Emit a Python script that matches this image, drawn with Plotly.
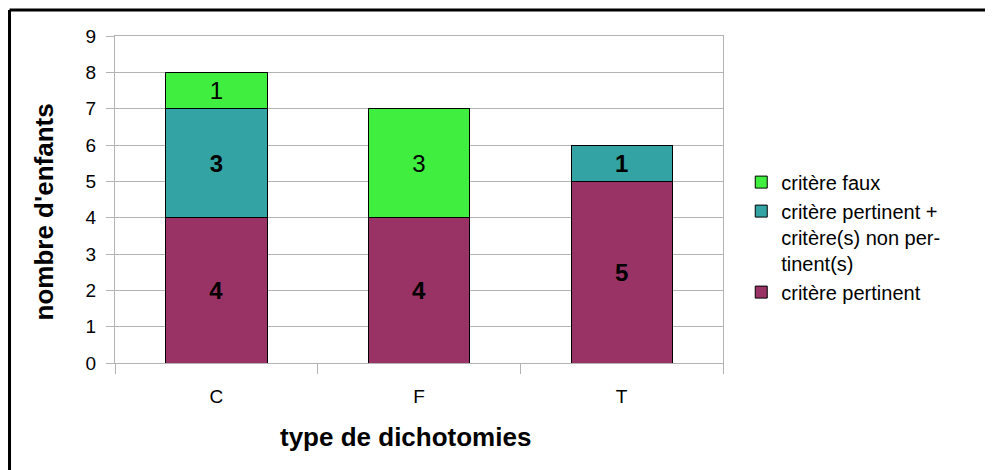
import plotly.graph_objects as go

categories = ['C', 'F', 'T']
pertinent = [4, 4, 5]
pertinent_plus = [3, 0, 1]
faux = [1, 3, 0]

series_names = [
    'critère pertinent',
    'critère pertinent +<br>critère(s) non per-<br>tinent(s)',
    'critère faux',
]
colors = ['#993366', '#33a3a3', '#3fee3f']
bold_labels = [True, True, False]


def labels(values, bold):
    out = []
    for v in values:
        if v == 0:
            out.append('')
        elif bold:
            out.append(f'<b>{v}</b>')
        else:
            out.append(str(v))
    return out


fig = go.Figure()
for name, values, color, bold in zip(series_names, [pertinent, pertinent_plus, faux], colors, bold_labels):
    fig.add_trace(
        go.Bar(
            x=categories,
            y=values,
            name=name,
            legendgroup=name,
            width=0.5,
            marker={'color': color, 'line': {'color': '#000000', 'width': 1}},
            text=labels(values, bold),
            textposition='inside',
            insidetextanchor='middle',
            textangle=0,
            textfont={'color': '#000000', 'size': 24},
        )
    )

# frame: only the top and left edges are visible in the picture
frame = {'xref': 'paper', 'yref': 'paper', 'line': {'color': '#000000', 'width': 3}, 'layer': 'below'}

# the page body has an 8px margin, so margins are shifted to match
fig.update_layout(
    barmode='stack',
    width=993,
    height=470,
    margin={'l': 107, 'r': 278, 't': 28, 'b': 115},
    plot_bgcolor='white',
    paper_bgcolor='white',
    font={'family': 'Liberation Sans, Arial, sans-serif', 'color': '#000000', 'size': 19},
    uniformtext={'mode': 'show', 'minsize': 10},
    legend={
        'x': 1.03,
        'xanchor': 'left',
        'y': 0.385,
        'yanchor': 'middle',
        'traceorder': 'reversed',
        'valign': 'top',
        'font': {'size': 20},
        'itemwidth': 30,
        'tracegroupgap': 12,
    },
    shapes=[
        dict(frame, type='line', x0=-0.1735, x1=1.6, y0=1.0795, y1=1.0795),
        dict(frame, type='line', x0=-0.1735, x1=-0.1735, y0=-0.5, y1=1.0795),
    ],
    annotations=[
        {
            'text': '<b>type de dichotomies</b>',
            'xref': 'paper',
            'yref': 'paper',
            'x': 0.477,
            'y': -0.226,
            'xanchor': 'center',
            'yanchor': 'middle',
            'showarrow': False,
            'font': {'size': 26},
        },
        {
            'text': "<b>nombre d'enfants</b>",
            'xref': 'paper',
            'yref': 'paper',
            'x': -0.117,
            'y': 0.463,
            'xanchor': 'center',
            'yanchor': 'middle',
            'textangle': -90,
            'showarrow': False,
            'font': {'size': 26},
        },
    ],
)

fig.update_xaxes(
    showline=True,
    linecolor='#b3b3b3',
    mirror=True,
    ticks='outside',
    tickson='boundaries',
    ticklen=10,
    tickcolor='#b3b3b3',
    tickfont={'size': 19},
    ticklabelstandoff=16,
)
fig.update_yaxes(
    range=[0, 9],
    dtick=1,
    showgrid=True,
    gridcolor='#b3b3b3',
    showline=True,
    linecolor='#b3b3b3',
    mirror=True,
    ticks='outside',
    ticklen=8,
    tickcolor='#b3b3b3',
    tickfont={'size': 19},
    ticklabelstandoff=6,
    zeroline=False,
)

fig.write_html('out.html')
